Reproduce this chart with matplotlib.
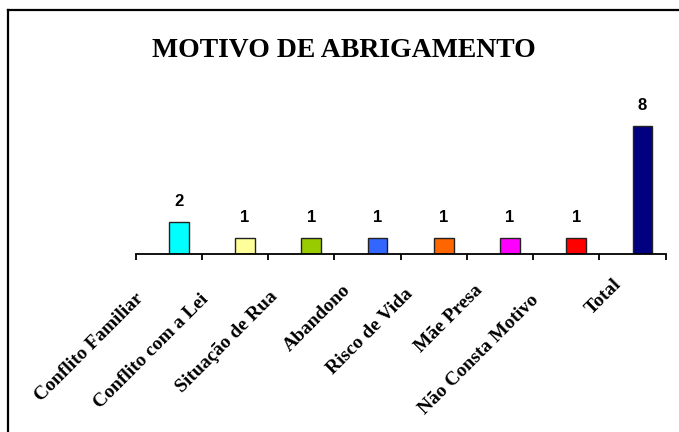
import matplotlib
matplotlib.use('Agg')  # no display
import matplotlib.pyplot as plt
import matplotlib.transforms as mtransforms
from matplotlib.lines import Line2D
import numpy as np

categorias = ['Conflito Familiar', 'Conflito com a Lei', 'Situação de Rua', 'Abandono',
              'Risco de Vida', 'Mãe Presa', 'Não Consta Motivo', 'Total']
valores = [2, 1, 1, 1, 1, 1, 1, 8]
cores = ['#00FFFF', '#FFFF99', '#99CC00', '#3366FF', '#FF6600', '#FF00FF', '#FF0000', '#000080']

W, H = 679, 432
fig = plt.figure(figsize=(W / 100, H / 100), dpi=100)

# moldura (so aparecem a esquerda e em cima)
fig.add_artist(Line2D([8 / W, 8 / W], [0, 1 - 10 / H], color='black', lw=1.6))
fig.add_artist(Line2D([8 / W, 1], [1 - 10 / H, 1 - 10 / H], color='black', lw=1.6))

ax = fig.add_axes([135.7 / W, 1 - 254 / H, 530 / W, 160 / H])

x = np.arange(len(categorias)) + 0.5
ax.bar(x + 0.15, valores, width=0.30, color=cores, edgecolor='#222222', linewidth=1.0)

for xi, v in zip(x, valores):
    ax.annotate(str(v), (xi + 0.15, v), xytext=(0, 9.5), textcoords='offset points',
                ha='center', va='bottom', fontsize=12, fontweight='bold',
                family='Liberation Sans')

ax.set_xlim(0, len(categorias))
ax.set_ylim(0, 10)
ax.set_xticks(np.arange(len(categorias) + 1))
ax.set_xticklabels([])
ax.set_yticks([])
for s in ['top', 'right', 'left']:
    ax.spines[s].set_visible(False)
ax.spines['bottom'].set_linewidth(1.3)
ax.tick_params(axis='x', direction='out', length=4, width=1.3)

# rotulos inclinados: os mais longos descem um pouco mais (como no Excel)
fonte = dict(fontsize=14, fontweight='bold', family='Liberation Serif')
renderer = fig.canvas.get_renderer()
trans = ax.get_xaxis_transform()
for xi, nome in zip(x, categorias):
    tmp = fig.text(0, 0, nome, **fonte)
    L = tmp.get_window_extent(renderer).width
    tmp.remove()
    s = 0.19 * L - 20.2
    dx = -0.707 * s + 1.5
    dy = -(0.707 * s + 1.5)
    tr = mtransforms.offset_copy(trans, fig=fig, x=dx, y=dy, units='dots')
    ax.text(xi - 0.45, -0.18, nome, transform=tr, rotation=45, rotation_mode='anchor',
            ha='right', va='top', **fonte)

fig.text(344 / W, 1 - 56.7 / H, 'MOTIVO DE ABRIGAMENTO', ha='center', va='baseline',
         fontsize=20, fontweight='bold', family='Liberation Serif')

fig.savefig('out.png', dpi=100)
plt.close()
